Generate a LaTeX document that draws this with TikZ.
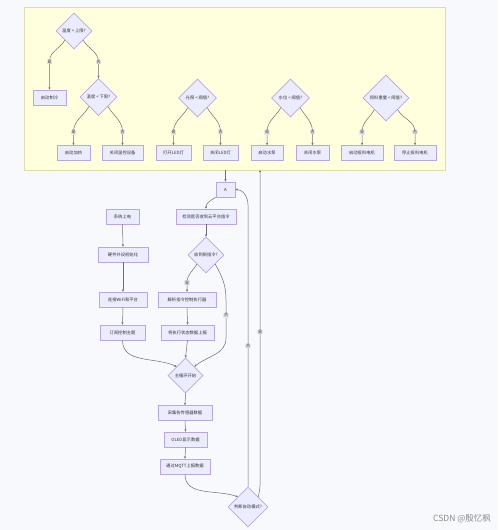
\documentclass[tikz,border=0pt]{standalone}
\usepackage{fontspec}
\newfontfamily\cjk{Noto Sans CJK SC}
\usetikzlibrary{shapes.geometric,arrows.meta,calc}
\definecolor{bg}{HTML}{F8F9FC}
\definecolor{ylw}{HTML}{FFFFDE}
\definecolor{ylwb}{HTML}{DEDEA6}
\definecolor{nfill}{HTML}{ECECFF}
\definecolor{nline}{HTML}{B9A6EA}
\definecolor{eline}{HTML}{6E6E6E}
\definecolor{txt}{HTML}{333333}
\begin{document}
\begin{tikzpicture}[x=1pt,y=-1pt,
 box/.style={draw=nline,fill=nfill,line width=0.7pt,minimum height=15pt,inner sep=0pt,font=\cjk\fontsize{4.3}{5}\selectfont,text=txt},
 dia/.style={diamond,draw=nline,fill=nfill,line width=0.7pt,aspect=1,inner sep=0pt},
 dtxt/.style={inner sep=0pt,font=\cjk\fontsize{4.3}{5}\selectfont,text=txt},
 ed/.style={draw=eline,line width=0.5pt,-{Stealth[length=2.4pt,width=2.2pt]}},
 lab/.style={fill=black!9,inner sep=0.6pt,font=\cjk\fontsize{4}{4.5}\selectfont,text=txt}]
\fill[bg] (0,0) rectangle (498,530);
\useasboundingbox (0,0) rectangle (498,530);
% subgraph
\node[draw=ylwb,fill=ylw,line width=0.9pt,minimum width=421pt,minimum height=163pt,inner sep=0pt] (sg) at (234.5,88.5) {};
% top nodes
\node[dia,minimum size=36pt,label={[dtxt]center:温度 > 上限?}] (d1) at (74,31) {};
\node[box,minimum width=33pt] (c1) at (49.5,97.5) {启动制冷};
\node[dia,minimum size=37pt,label={[dtxt]center:温度 < 下限?}] (d2) at (98.5,97) {};
\node[box,minimum width=33pt] (c2) at (73.5,153) {启动加热};
\node[box,minimum width=41pt] (c3) at (122.5,153) {关闭温控设备};
\node[dia,minimum size=38pt,label={[dtxt]center:光照 < 阈值?}] (d3) at (197.5,98) {};
\node[box,minimum width=35pt] (c4) at (173.5,153) {打开LED灯};
\node[box,minimum width=35pt] (c5) at (220.5,153) {关闭LED灯};
\node[dia,minimum size=38pt,label={[dtxt]center:水位 < 阈值?}] (d4) at (290.5,98) {};
\node[box,minimum width=32pt] (c6) at (267,153) {启动水泵};
\node[box,minimum width=33pt] (c7) at (312.5,153) {关闭水泵};
\node[dia,minimum size=46pt,label={[dtxt]center:饲料重量 < 阈值?}] (d5) at (386,98) {};
\node[box,minimum width=42pt] (c8) at (362,153) {启动投料电机};
\node[box,minimum width=42pt] (c9) at (415,153) {停止投料电机};
% top edges
\draw[ed] (d1.south west) to[out=-120,in=90] ($(c1.north)+(0,-28)$) node[lab]{是} -- (c1.north);
\draw[ed] (d1.south east) to[out=-60,in=90] ($(d2.north)+(0,-16)$) node[lab]{否} -- (d2.north);
\foreach \d/\a/\b in {d2/c2/c3,d3/c4/c5,d4/c6/c7,d5/c8/c9}{
  \draw[ed] (\d.south west) to[out=-120,in=90] ($(\a.north)+(0,-13)$) node[lab]{是} -- (\a.north);
  \draw[ed] (\d.south east) to[out=-60,in=90] ($(\b.north)+(0,-13)$) node[lab]{否} -- (\b.north);
}
% bottom nodes
\node[box,minimum width=19pt] (A) at (225.5,189.5) {A};
\node[box,minimum width=60pt] (n1) at (206,216.5) {检测是否收到云平台指令};
\node[box,minimum width=33pt] (s1) at (122.5,216.5) {系统上电};
\node[box,minimum width=50pt] (s2) at (123,254.5) {硬件外设初始化};
\node[box,minimum width=48pt] (s3) at (123,299.5) {连接WiFi和平台};
\node[box,minimum width=45pt] (s4) at (122.5,332.5) {订阅控制主题};
\node[dia,minimum size=36pt,label={[dtxt]center:收到新指令?}] (q1) at (206,255) {};
\node[box,minimum width=58pt] (e1) at (187,299.5) {解析指令控制执行器};
\node[box,minimum width=53pt] (e2) at (187.5,332.5) {将执行状态数据上报};
\node[dia,minimum size=35pt,label={[dtxt]center:主循环开始}] (q2) at (185.5,375.5) {};
\node[box,minimum width=54pt] (m1) at (185,413) {采集各传感器数据};
\node[box,minimum width=43pt] (m2) at (185.5,439.5) {OLED显示数据};
\node[box,minimum width=50pt] (m3) at (185,466.5) {通过MQTT上报数据};
\node[dia,minimum size=40pt,label={[dtxt]center:判断自动模式?}] (q3) at (248,507) {};
\coordinate (sgA) at (A.north |- sg.south);
\coordinate (sgB) at (260,170);
% bottom edges
\draw[ed] (sgA) -- (A.north);
\draw[ed] (A.south west) to[out=-150,in=90] (n1.north);
\draw[ed] (n1.south) -- (q1.north);
\draw[ed] (s1.south) -- (s2.north);
\draw[ed] (s2.south) -- (s3.north);
\draw[ed] (s3.south) -- (s4.north);
\draw[ed] (q1.south west) to[out=-120,in=90] ($(e1.north)+(0,-9)$) node[lab]{是} -- (e1.north);
\draw[ed] (q1.south east) to[out=-60,in=90] (226,300) -- node[lab,pos=0.4]{否} (226,338) to[out=-90,in=40] (q2.north east);
\draw[ed] (e1.south) -- (e2.north);
\draw[ed] (e2.south) -- (q2.north);
\draw[ed] (s4.south) to[out=-90,in=155] (q2.north west);
\draw[ed] (q2.south) -- (m1.north);
\draw[ed] (m1.south) -- (m2.north);
\draw[ed] (m2.south) -- (m3.north);
\draw[ed] (m3.south) to[out=-90,in=160] (q3.north west);
\draw[ed] (q3.north) -- node[lab,pos=0.5]{否} (248,205) to[out=90,in=0] (A.east);
\draw[ed] (q3.north east) to[out=75,in=-90] (260,470) -- node[lab,pos=0.46]{是} (sgB);
% watermark
\node[inner sep=0pt,font=\cjk\fontsize{8.5}{9}\selectfont,text=black!45] (wm) at (462,519) {CSDN @殷忆枫};
\end{tikzpicture}
\end{document}
